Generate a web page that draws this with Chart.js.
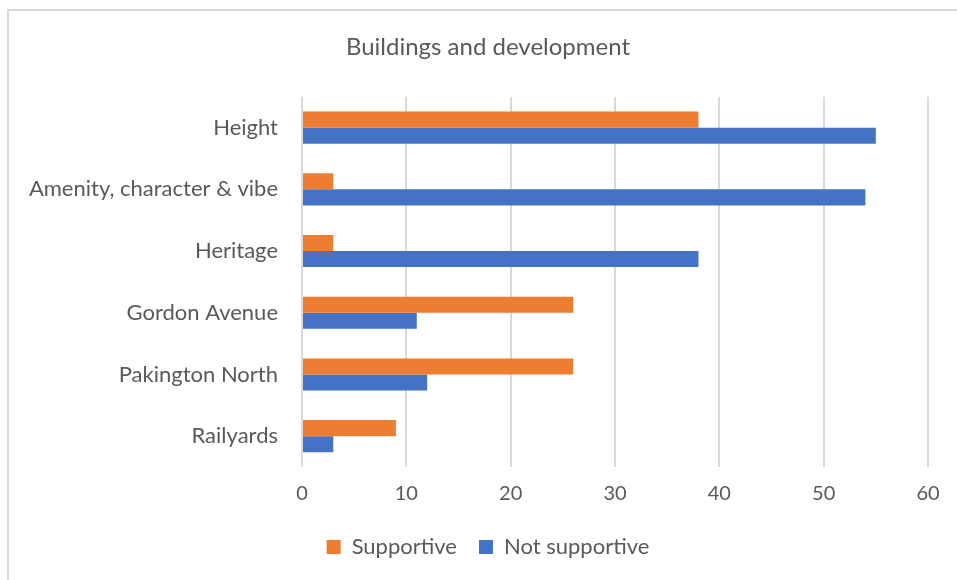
<!DOCTYPE html>
<html>
<head>
<meta charset="utf-8">
<script src="https://cdn.jsdelivr.net/npm/chart.js@4/dist/chart.umd.min.js"></script>
<style>
  body { margin: 0; background: #fff; overflow: hidden; }
  #wrap { width: 1005px; height: 580px; position: relative; }
</style>
</head>
<body>
<div id="wrap"><canvas id="myChart"></canvas></div>
<script>
var categories = ['Height', 'Amenity, character & vibe', 'Heritage', 'Gordon Avenue', 'Pakington North', 'Railyards'];
var supportive = [38, 3, 3, 26, 26, 9];
var notSupportive = [55, 54, 38, 11, 12, 3];
var xTicks = [0, 10, 20, 30, 40, 50, 60];

var textColor = '#595959';
var fontName = 'Lato, "Open Sans", sans-serif';

// light frame at the top and left edge, like the original picture
var framePlugin = {
    id: 'frame',
    beforeDraw: function (chart) {
        var ctx = chart.ctx;
        ctx.save();
        ctx.strokeStyle = '#d9d9d9';
        ctx.lineWidth = 2;
        ctx.beginPath();
        ctx.moveTo(8, 600);
        ctx.lineTo(8, 10);
        ctx.lineTo(1100, 10);
        ctx.stroke();
        ctx.restore();
    }
};

var myChart;

function createChart() {
    var ctx = document.getElementById('myChart').getContext('2d');
    myChart = new Chart(ctx, {
        type: 'bar',
        data: {
            labels: categories,
            datasets: [{
                label: 'Supportive',
                data: supportive,
                backgroundColor: '#ED7D31',
                categoryPercentage: 0.52,
                barPercentage: 1.0
            }, {
                label: 'Not supportive',
                data: notSupportive,
                backgroundColor: '#4472C4',
                categoryPercentage: 0.52,
                barPercentage: 1.0
            }]
        },
        options: {
            indexAxis: 'y',
            responsive: true,
            maintainAspectRatio: false,
            animation: false,
            layout: { padding: { left: 0, right: 29, top: 0, bottom: 12 } },
            plugins: {
                title: {
                    display: true,
                    text: 'Buildings and development',
                    color: textColor,
                    font: { family: fontName, size: 24, weight: 'normal' },
                    padding: { top: 33, bottom: 35 }
                },
                legend: {
                    position: 'bottom',
                    labels: {
                        color: textColor,
                        font: { family: fontName, size: 22 },
                        boxWidth: 14,
                        boxHeight: 14,
                        padding: 22
                    }
                },
                tooltip: { enabled: false }
            },
            scales: {
                x: {
                    min: 0,
                    max: 60,
                    afterBuildTicks: function (axis) {
                        axis.ticks = xTicks.map(function (v) { return { value: v }; });
                    },
                    afterFit: function (axis) { axis.height = 47; },
                    grid: { color: '#d9d9d9', lineWidth: 2, drawTicks: false },
                    border: { display: false },
                    ticks: {
                        color: textColor,
                        font: { family: fontName, size: 20 },
                        padding: 15
                    }
                },
                y: {
                    grid: { display: false },
                    border: { display: false },
                    afterFit: function (axis) { axis.width = 302; },
                    ticks: {
                        color: textColor,
                        font: { family: fontName, size: 22 },
                        padding: 16
                    }
                },
                // empty space on the right so title and legend sit off-centre like the original
                yRight: {
                    type: 'category',
                    position: 'right',
                    grid: { display: false },
                    border: { display: false },
                    ticks: { display: false },
                    afterFit: function (axis) { axis.width = 48; }
                }
            }
        },
        plugins: [framePlugin]
    });
}

document.addEventListener('DOMContentLoaded', function () {
    createChart();
});
</script>
</body>
</html>
